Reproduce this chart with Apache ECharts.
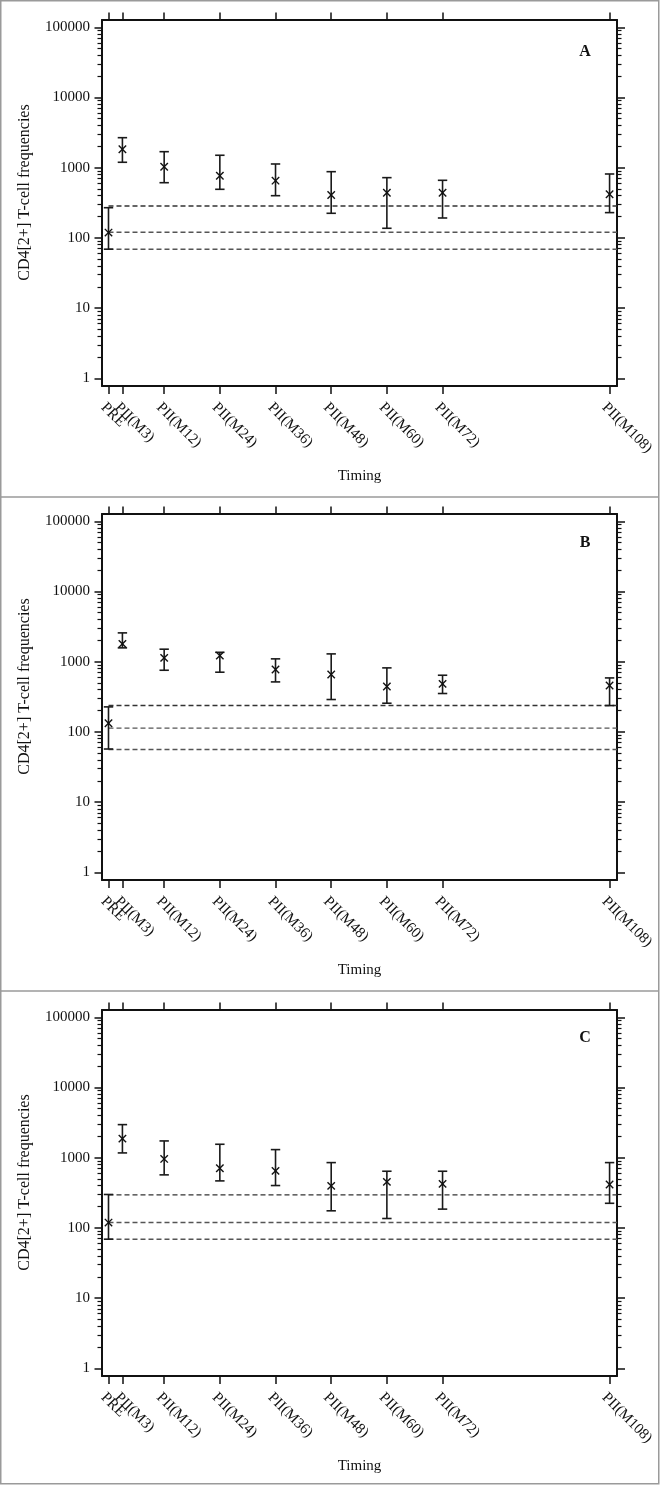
<!DOCTYPE html>
<html><head><meta charset="utf-8">
<script src="https://cdn.jsdelivr.net/npm/echarts@6/dist/echarts.min.js"></script>
<style>html,body{margin:0;padding:0;background:#fff}#c{width:661px;height:1485px}</style>
</head><body><div id="c"></div>
<script>
// ---- data ----
const times = [0, 3, 12, 24, 36, 48, 60, 72, 108];
const timingLabels = ['PRE', 'PII(M3)', 'PII(M12)', 'PII(M24)', 'PII(M36)', 'PII(M48)', 'PII(M60)', 'PII(M72)', 'PII(M108)'];
const yTickValues = [1, 10, 100, 1000, 10000, 100000];
const yMinorMultipliers = [2, 3, 4, 5, 6, 7, 8, 9];
const panelNames = ['A', 'B', 'C'];
const yTitle = 'CD4[2+] T-cell frequencies';
const xTitle = 'Timing';

const meanA = [119, 1830, 1033, 769, 653, 408, 440, 440, 418];
const lowA  = [69, 1194, 611, 492, 399, 224, 137, 192, 229];
const highA = [269, 2675, 1690, 1503, 1129, 877, 721, 661, 813];
const refA  = [285, 120, 69];

const meanB = [133, 1794, 1133, 1220, 773, 656, 443, 483, 457];
const lowB  = [57, 1573, 755, 708, 515, 289, 256, 352, 237];
const highB = [227, 2572, 1507, 1360, 1097, 1291, 816, 641, 587];
const refB  = [237, 113, 56];

const meanC = [119, 1871, 960, 707, 649, 396, 452, 424, 414];
const lowC  = [69, 1169, 569, 467, 401, 175, 136, 185, 224];
const highC = [299, 2958, 1732, 1553, 1303, 851, 641, 641, 851];
const refC  = [295, 119, 69];

const panels = [
  {mean: meanA, low: lowA, high: highA, ref: refA},
  {mean: meanB, low: lowB, high: highB, ref: refB},
  {mean: meanC, low: lowC, high: highC, ref: refC}
];

// ---- layout / style ----
const XMIN = -1.4, XMAX = 109.6;
const YMIN = 0.776, YMAX = 127000;
const gridTops = [20, 514, 1010];
const labelYs = [52, 543, 1037.5];
const FONT = '"Liberation Serif", "Times New Roman", serif';
const INK = '#111';
const XPER_GRID = 3, YPER_GRID = 4;

const minorVals = [];
yTickValues.forEach(function (p) { yMinorMultipliers.forEach(function (m) { const v = p * m; if (v < YMAX) minorVals.push(v); }); });
// label positions padded with hidden edge placeholders so no real label is treated as min/max
const xLabelValues = [XMIN].concat(times, [XMAX]);

const chart = echarts.init(document.getElementById('c'), null, {renderer: 'canvas'});

const grids = [], xAxes = [], yAxes = [], series = [], graphics = [];

function renderErrorBar(params, api) {
  const x = api.value(0), m = api.value(1), lo = api.value(2), hi = api.value(3);
  const pM = api.coord([x, m]), pL = api.coord([x, lo]), pH = api.coord([x, hi]);
  const cw = 4.7, mk = 3.7;
  const st = {stroke: '#1a1a1a', lineWidth: 1.6, fill: null};
  return {
    type: 'group',
    children: [
      {type: 'line', shape: {x1: pL[0], y1: pL[1], x2: pH[0], y2: pH[1]}, style: st},
      {type: 'line', shape: {x1: pL[0] - cw, y1: pL[1], x2: pL[0] + cw, y2: pL[1]}, style: st},
      {type: 'line', shape: {x1: pH[0] - cw, y1: pH[1], x2: pH[0] + cw, y2: pH[1]}, style: st},
      {type: 'line', shape: {x1: pM[0] - mk, y1: pM[1] - mk, x2: pM[0] + mk, y2: pM[1] + mk}, style: {stroke: '#111', lineWidth: 1.4}},
      {type: 'line', shape: {x1: pM[0] - mk, y1: pM[1] + mk, x2: pM[0] + mk, y2: pM[1] - mk}, style: {stroke: '#111', lineWidth: 1.4}}
    ]
  };
}

panels.forEach(function (p, i) {
  grids.push({left: 102, right: 44, top: gridTops[i], height: 366, containLabel: false});
  const axisLine = {show: true, onZero: false, lineStyle: {color: INK, width: 2}};
  const noLine = {show: false, onZero: false};
  // bottom x: line + labels + title
  xAxes.push({
    gridIndex: i, type: 'value', position: 'bottom', min: XMIN, max: XMAX,
    axisLine: axisLine,
    axisTick: {show: false},
    axisLabel: {show: true, customValues: xLabelValues, rotate: -45, margin: 14, fontSize: 15, color: INK, fontFamily: FONT,
      align: 'left', verticalAlign: 'top', showMinLabel: false, showMaxLabel: false,
      formatter: function (v) { const k = times.indexOf(v); return k >= 0 ? timingLabels[k] : ''; }},
    splitLine: {show: false},
    name: xTitle, nameLocation: 'middle', nameGap: 83,
    nameTextStyle: {fontSize: 15, color: INK, fontFamily: FONT}
  });
  // bottom x: ticks only
  xAxes.push({
    gridIndex: i, type: 'value', position: 'bottom', min: XMIN, max: XMAX,
    axisLine: noLine,
    axisTick: {show: true, inside: false, length: 8, customValues: times, lineStyle: {color: INK, width: 1.5}},
    axisLabel: {show: false}, splitLine: {show: false}
  });
  // top x (ticks only)
  xAxes.push({
    gridIndex: i, type: 'value', position: 'top', min: XMIN, max: XMAX,
    axisLine: axisLine,
    axisTick: {show: true, inside: false, length: 7.5, customValues: times, lineStyle: {color: INK, width: 1.5}},
    axisLabel: {show: false}, splitLine: {show: false}
  });
  // left y major
  yAxes.push({
    gridIndex: i, type: 'log', position: 'left', min: YMIN, max: YMAX,
    axisLine: axisLine,
    axisTick: {show: true, length: 7.5, customValues: yTickValues, lineStyle: {color: INK, width: 1.5}},
    axisLabel: {show: true, customValues: yTickValues, margin: 12, fontSize: 15, color: INK, fontFamily: FONT,
      formatter: function (v) { return String(Math.round(v)); }},
    minorTick: {show: false}, splitLine: {show: false},
    name: yTitle, nameLocation: 'middle', nameRotate: 90, nameGap: 69,
    nameTextStyle: {fontSize: 16, color: INK, fontFamily: FONT, padding: [0, 0, 0, 21]}
  });
  // left y minor
  yAxes.push({
    gridIndex: i, type: 'log', position: 'left', min: YMIN, max: YMAX,
    axisLine: noLine,
    axisTick: {show: true, length: 4.5, customValues: minorVals, lineStyle: {color: INK, width: 1.2}},
    axisLabel: {show: false}, splitLine: {show: false}, minorTick: {show: false}
  });
  // right y major
  yAxes.push({
    gridIndex: i, type: 'log', position: 'right', min: YMIN, max: YMAX,
    axisLine: axisLine,
    axisTick: {show: true, length: 8, customValues: yTickValues, lineStyle: {color: INK, width: 1.5}},
    axisLabel: {show: false}, splitLine: {show: false}, minorTick: {show: false}
  });
  // right y minor
  yAxes.push({
    gridIndex: i, type: 'log', position: 'right', min: YMIN, max: YMAX,
    axisLine: noLine,
    axisTick: {show: true, length: 4.5, customValues: minorVals, lineStyle: {color: INK, width: 1.2}},
    axisLabel: {show: false}, splitLine: {show: false}, minorTick: {show: false}
  });

  // reference dashed lines
  p.ref.forEach(function (r, k) {
    series.push({
      type: 'line', xAxisIndex: i * XPER_GRID, yAxisIndex: i * YPER_GRID, silent: true, symbol: 'none', z: 1,
      data: [[times[0], r], [XMAX, r]],
      lineStyle: {type: [5, 3], color: k === 0 ? '#333' : '#555', width: 1.4}
    });
  });
  // error bars
  series.push({
    type: 'custom', xAxisIndex: i * XPER_GRID, yAxisIndex: i * YPER_GRID, z: 3, clip: false,
    encode: {x: 0, y: [1, 2, 3]},
    data: times.map(function (t, j) { return [t, p.mean[j], p.low[j], p.high[j]]; }),
    renderItem: renderErrorBar
  });

  graphics.push({type: 'text', x: 585, y: labelYs[i], style: {text: panelNames[i], font: 'bold 16px ' + FONT, fill: INK, textAlign: 'center', textVerticalAlign: 'middle'}});
});

graphics.push({type: 'rect', shape: {x: 0.75, y: 0.75, width: 658, height: 1483}, style: {fill: 'none', stroke: '#9a9a9a', lineWidth: 1.5}, z: 100});
graphics.push({type: 'line', shape: {x1: 0, y1: 497, x2: 659, y2: 497}, style: {stroke: '#9a9a9a', lineWidth: 1.5}, z: 100});
graphics.push({type: 'line', shape: {x1: 0, y1: 991, x2: 659, y2: 991}, style: {stroke: '#9a9a9a', lineWidth: 1.5}, z: 100});

chart.setOption({
  animation: false,
  backgroundColor: '#fff',
  textStyle: {fontFamily: FONT},
  grid: grids, xAxis: xAxes, yAxis: yAxes, series: series, graphic: graphics
});
</script></body></html>
